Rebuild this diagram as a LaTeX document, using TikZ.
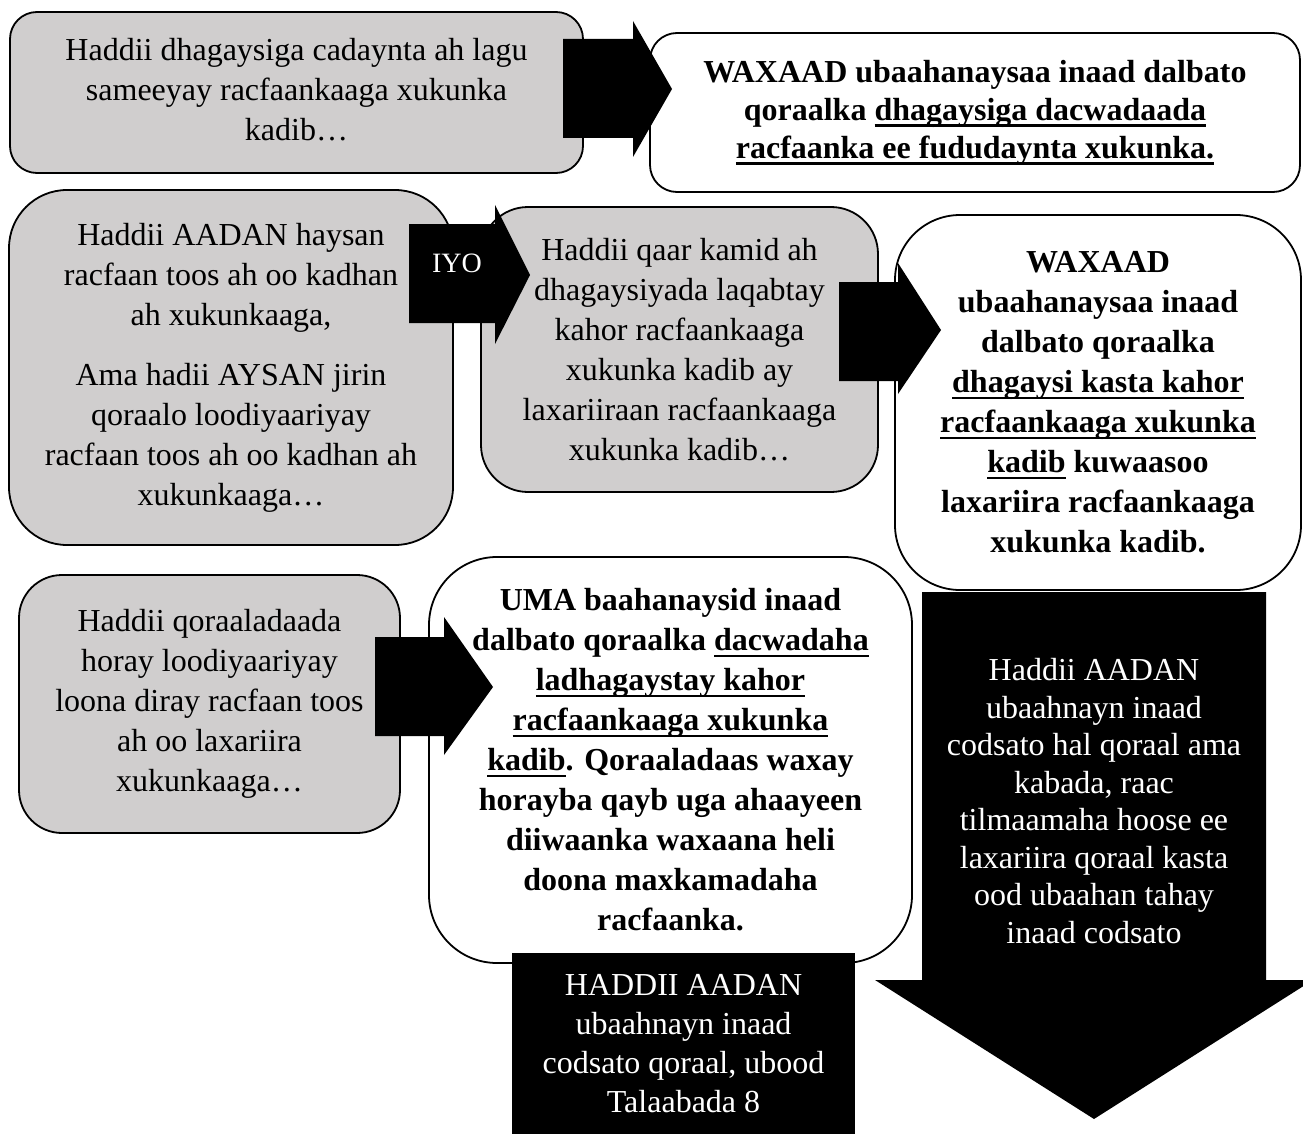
\documentclass[tikz,border=0pt]{standalone}
\usepackage{fontspec}
\setmainfont{Liberation Serif}
\definecolor{boxgray}{HTML}{D0CECE}
\newlength\myulw
\newcommand\myul[1]{\settowidth\myulw{#1}\makebox[0pt][l]{\rule[-6.5pt]{\myulw}{2.4pt}}#1}
\begin{document}
\begin{tikzpicture}[x=1pt,y=-1pt,
  box/.style={draw=black, line width=1.8pt, align=center, inner sep=0pt},
  gbox/.style={box, fill=boxgray, font=\fontsize{32}{40}\selectfont},
  wbox/.style={box, fill=white, font=\fontsize{32}{40}\selectfont\bfseries},
  blkarrow/.style={fill=black, draw=none},
  whitetext/.style={text=white, align=center, inner sep=0pt}]
\useasboundingbox (0,0) rectangle (1303,1134);
\fill[white] (0,0) rectangle (1303,1134);

% boxes
\node[gbox, minimum width=573, minimum height=161, rounded corners=27pt] (b1) at (296.5,92.5)
  {\raisebox{3pt}{\begin{tabular}{@{}c@{}}Haddii dhagaysiga cadaynta ah lagu\\ sameeyay racfaankaaga xukunka\\ kadib…\end{tabular}}};
\node[wbox, minimum width=650, minimum height=159, rounded corners=27pt, font=\fontsize{32}{38}\selectfont\bfseries] (b2) at (975,112.5)
  {WAXAAD ubaahanaysaa inaad dalbato\\ qoraalka \myul{dhagaysiga dacwadaada}\\ \myul{racfaanka ee fududaynta xukunka.}};
\node[gbox, minimum width=444, minimum height=355, rounded corners=58pt] (b3) at (231,367.5)
  {Haddii AADAN haysan\\ racfaan toos ah oo kadhan\\ ah xukunkaaga,\\[20pt] Ama hadii AYSAN jirin\\ qoraalo loodiyaariyay\\ racfaan toos ah oo kadhan ah\\ xukunkaaga…};
\node[gbox, minimum width=397, minimum height=285, rounded corners=47pt] (b4) at (679.5,349.5)
  {Haddii qaar kamid ah\\ dhagaysiyada laqabtay\\ kahor racfaankaaga\\ xukunka kadib ay\\ laxariiraan racfaankaaga\\ xukunka kadib…};
\node[wbox, minimum width=406, minimum height=375, rounded corners=65pt] (b5) at (1098,402.5)
  {WAXAAD\\ ubaahanaysaa inaad\\ dalbato qoraalka\\ \myul{dhagaysi kasta kahor}\\ \myul{racfaankaaga xukunka}\\ \myul{kadib} kuwaasoo\\ laxariira racfaankaaga\\ xukunka kadib.};
\node[gbox, minimum width=381, minimum height=258, rounded corners=43pt] (b6) at (209.5,704)
  {Haddii qoraaladaada\\ horay loodiyaariyay\\ loona diray racfaan toos\\ ah oo laxariira\\ xukunkaaga…};
\node[wbox, minimum width=483, minimum height=406, rounded corners=68pt] (b7) at (670.5,760)
  {UMA baahanaysid inaad\\ dalbato qoraalka \myul{dacwadaha}\\ \myul{ladhagaystay kahor}\\ \myul{racfaankaaga xukunka}\\ \myul{kadib}. Qoraaladaas waxay\\ horayba qayb uga ahaayeen\\ diiwaanka waxaana heli\\ doona maxkamadaha\\ racfaanka.};

% block arrows
\fill[blkarrow] (563,39) -- (633,39) -- (633,21) -- (672,89) -- (633,157) -- (633,138) -- (563,138) -- cycle;
\fill[blkarrow] (409,224) -- (495,224) -- (495,205) -- (530,275) -- (495,344) -- (495,323) -- (409,323) -- cycle;
\node[whitetext, font=\fontsize{28}{30}\selectfont] (iyo) at (457,263) {IYO};
\fill[blkarrow] (839,282) -- (898,282) -- (898,263) -- (941,330) -- (898,394) -- (898,381) -- (839,381) -- cycle;
\fill[blkarrow] (375,637) -- (444,637) -- (444,617) -- (493,687) -- (444,755) -- (444,736) -- (375,736) -- cycle;

% black box
\node[fill=black, minimum width=343, minimum height=181, inner sep=0pt, text=white, align=center,
  font=\fontsize{32}{39}\selectfont] (b8) at (683.5,1043.5)
  {HADDII AADAN\\ ubaahnayn inaad\\ codsato qoraal, ubood\\ Talaabada 8};

% big down arrow
\fill[blkarrow] (922,592) -- (1266,592) -- (1266,980) -- (1313,980) -- (1094,1119) -- (875,980) -- (922,980) -- cycle;
\node[whitetext, font=\fontsize{32}{37.5}\selectfont] (b9) at (1094,801)
  {Haddii AADAN\\ ubaahnayn inaad\\ codsato hal qoraal ama\\ kabada, raac\\ tilmaamaha hoose ee\\ laxariira qoraal kasta\\ ood ubaahan tahay\\ inaad codsato};
\end{tikzpicture}
\end{document}
